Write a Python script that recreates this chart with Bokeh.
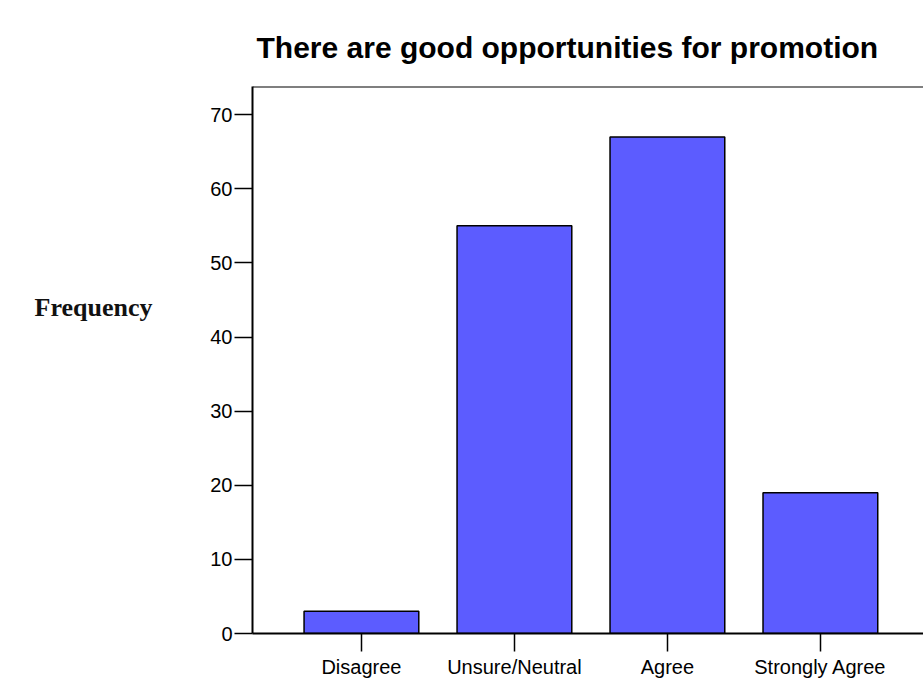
from bokeh.plotting import figure
from bokeh.models import Range1d, FixedTicker, Span, LinearAxis
from bokeh.embed import file_html
from bokeh.resources import INLINE

categories = ["Disagree", "Unsure/Neutral", "Agree", "Strongly Agree"]
frequency = [3, 55, 67, 19]
y_ticks = [0, 10, 20, 30, 40, 50, 60, 70]

xs = list(range(len(categories)))

p = figure(width=923, height=680, output_backend="svg", toolbar_location=None,
           x_range=Range1d(-0.712, 3.674), y_range=Range1d(0, 73.8),
           min_border_left=252, min_border_right=0, min_border_bottom=46,
           min_border_top=86)

p.title.text = "There are good opportunities for promotion"
p.title.text_font = "Liberation Sans"
p.title.text_font_size = "30px"
p.title.text_font_style = "bold"
p.title.text_color = "black"
p.title.align = "left"
p.title.offset = 4
p.title.standoff = 45

p.vbar(x=xs, top=frequency, width=0.75, fill_color="#5c5cff",
       line_color="black", line_width=1.5)

p.outline_line_color = None
p.add_layout(Span(location=73.8, dimension="width", line_color="black", line_width=2))

p.xgrid.visible = False
p.ygrid.visible = False

for ax in (p.xaxis, p.yaxis):
    ax.axis_line_width = 2
    ax.axis_line_color = "black"
    ax.major_tick_line_color = "black"
    ax.major_tick_line_width = 1.5
    ax.major_tick_in = 0
    ax.major_tick_out = 18
    ax.minor_tick_line_color = None
    ax.major_label_text_font = "Liberation Sans"
    ax.major_label_text_font_size = "20px"
    ax.major_label_text_color = "black"

p.xaxis.ticker = FixedTicker(ticks=xs)
p.xaxis.major_label_overrides = {i: c for i, c in enumerate(categories)}
p.xaxis.major_label_standoff = 4
p.yaxis.ticker = FixedTicker(ticks=y_ticks)
p.yaxis.major_label_standoff = 2

# extra, invisible axis carrying the horizontal "Frequency" label
# (trailing blank lines lift the single visible line above the frame centre)
lab_axis = LinearAxis(ticker=FixedTicker(ticks=[]),
                      axis_line_color=None, major_tick_line_color=None,
                      minor_tick_line_color=None,
                      major_label_text_font_size="0px")
lab_axis.axis_label = "Frequency\n\n\n"
lab_axis.axis_label_text_font = "Liberation Serif"
lab_axis.axis_label_text_font_size = "26px"
lab_axis.axis_label_text_font_style = "bold"
lab_axis.axis_label_text_color = "#111111"
lab_axis.axis_label_orientation = "horizontal"
lab_axis.axis_label_standoff = 55
p.add_layout(lab_axis, "left")

open("out.html", "w").write(file_html(p, INLINE))
